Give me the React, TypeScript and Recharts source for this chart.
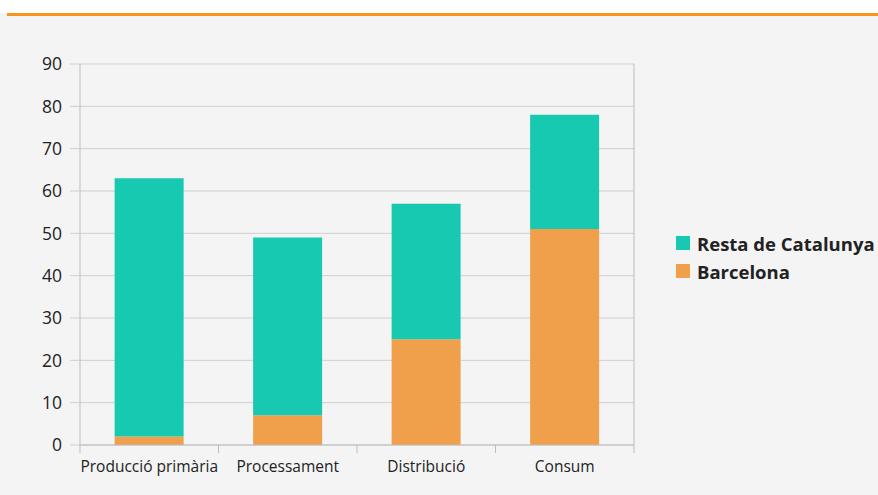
import React from 'react';
import { BarChart, Bar, XAxis, YAxis, CartesianGrid, Legend } from 'recharts';

const categories = ['Producció primària', 'Processament', 'Distribució', 'Consum'];
const barcelona = [2, 7, 25, 51];
const restaCatalunya = [61, 42, 32, 27];
const yTicks = [0, 10, 20, 30, 40, 50, 60, 70, 80, 90];

const data = categories.map((c, i) => ({
  name: c,
  barcelona: barcelona[i],
  resta: restaCatalunya[i],
}));

const TEAL = '#17c9b0';
const ORANGE = '#f0a04b';
const AXIS = '#bdbdbd';
const FONT = '"Open Sans", "Noto Sans", sans-serif';
const TICK_MARGIN = 16;
const TICK_LEN = 8;

const CategoryTick = (props: any) => {
  const { x, y, payload, index, visibleTicksCount } = props;
  const half = payload && payload.offset ? payload.offset : 0;
  const axisY = y - TICK_MARGIN;
  const isLast = index === (visibleTicksCount ? visibleTicksCount - 1 : categories.length - 1);
  return (
    <g>
      <line x1={x - half} x2={x - half} y1={axisY} y2={axisY + TICK_LEN} stroke={AXIS} />
      {isLast && <line x1={x + half} x2={x + half} y1={axisY} y2={axisY + TICK_LEN} stroke={AXIS} />}
      <text x={x} y={y} dy="0.71em" textAnchor="middle" fontFamily={FONT} fontSize={15.5} fill="#222">
        {payload.value}
      </text>
    </g>
  );
};

const LegendContent = (props: any) => {
  const items = [...(props.payload || [])].reverse();
  return (
    <div style={{ fontFamily: FONT, fontWeight: 700, fontSize: 18.5, color: '#222' }}>
      {items.map((it: any) => (
        <div key={it.value} style={{ display: 'flex', alignItems: 'center', height: 28, whiteSpace: 'nowrap' }}>
          <span style={{ display: 'inline-block', width: 14, height: 14, background: it.color, marginRight: 7 }} />
          <span>{it.value}</span>
        </div>
      ))}
    </div>
  );
};

export default function App() {
  return (
    <div style={{ position: 'absolute', left: 0, top: 0, width: 878, height: 495, background: '#f4f4f4', overflow: 'hidden' }}>
      <div style={{ position: 'absolute', left: 0, top: 0, width: 878, height: 13, background: '#ffffff' }} />
      <div style={{ position: 'absolute', left: 7, top: 13, width: 871, height: 3, background: '#f7961c' }} />
      <div style={{ position: 'absolute', left: 0, top: 0 }}>
        <BarChart width={878} height={495} data={data} margin={{ top: 64, right: 43, bottom: 0, left: 0 }} barCategoryGap="25%">
          <CartesianGrid yAxisId="left" vertical={false} stroke="#cfcfcf" />
          <XAxis dataKey="name" height={50} axisLine={{ stroke: AXIS }} tickLine={false} tickSize={0} tickMargin={TICK_MARGIN}
            interval={0} tick={<CategoryTick />} />
          <YAxis yAxisId="left" width={80} domain={[0, 90]} ticks={yTicks} interval={0}
            axisLine={{ stroke: AXIS }} tickLine={{ stroke: '#cfcfcf' }} tickSize={10} tickMargin={8}
            tick={{ fontFamily: FONT, fontSize: 17.5, fill: '#222' }} />
          <YAxis yAxisId="right" orientation="right" width={1} domain={[0, 90]} tick={false} tickLine={false}
            axisLine={{ stroke: AXIS }} />
          <Legend layout="vertical" align="right" verticalAlign="middle" content={<LegendContent />}
            wrapperStyle={{ left: 676, top: 229, width: 200 }} />
          <Bar yAxisId="left" dataKey="barcelona" name="Barcelona" stackId="a" fill={ORANGE} isAnimationActive={false} />
          <Bar yAxisId="left" dataKey="resta" name="Resta de Catalunya" stackId="a" fill={TEAL} isAnimationActive={false} />
        </BarChart>
      </div>
    </div>
  );
}
